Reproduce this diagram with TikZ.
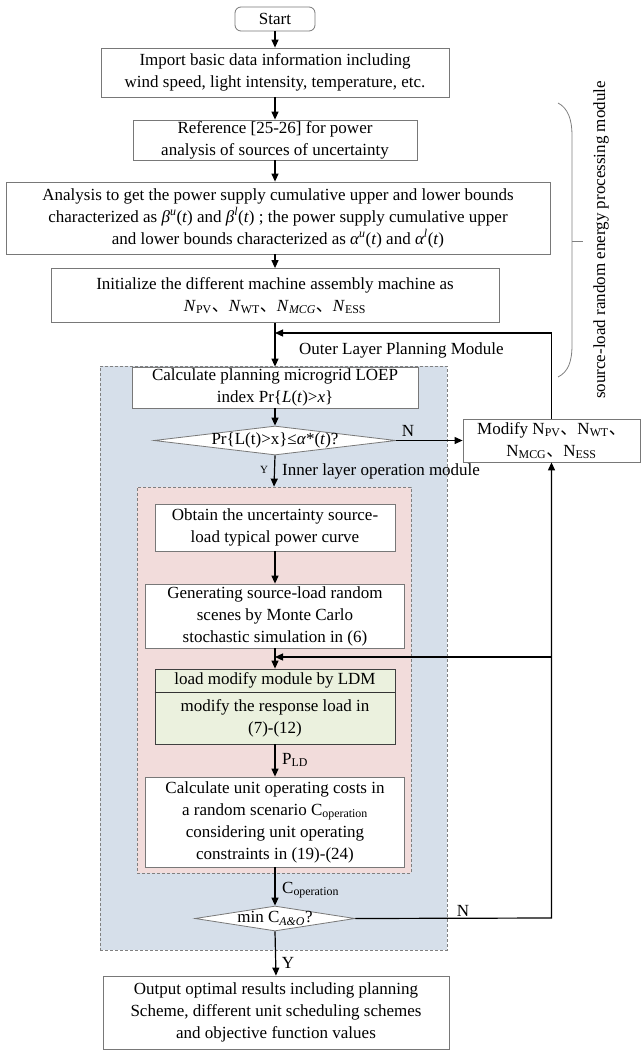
\documentclass[tikz,border=0pt]{standalone}
\usepackage{fontspec}
\setmainfont{Liberation Serif}
\newfontfamily\cjkfont{Noto Sans CJK SC}
\usetikzlibrary{arrows.meta,shapes.geometric}
\newcommand{\idc}{{\cjkfont 、}}
\newcommand{\sbs}[1]{\textsubscript{#1}}
\definecolor{blueregion}{RGB}{214,223,234}
\definecolor{pinkregion}{RGB}{242,220,219}
\definecolor{greenbox}{RGB}{235,241,222}
\definecolor{boxline}{RGB}{120,120,120}
\begin{document}
\begin{tikzpicture}[x=1pt,y=-1pt,
  txt/.style={font=\fontsize{17}{22}\selectfont},
  box/.style={draw=boxline, line width=0.8pt, fill=white, align=center, txt, inner sep=1pt},
  region/.style={draw=gray, dash pattern=on 3pt off 2pt, line width=0.8pt},
  arr/.style={line width=1.2pt, -{Triangle[length=8pt,width=7pt]}},
  ln/.style={line width=1.2pt},
  dia/.style={draw=boxline, line width=0.8pt, fill=white, diamond, inner sep=0pt},
  lbl/.style={txt, inner sep=1pt},
  small/.style={font=\fontsize{11}{12}\selectfont, inner sep=1pt}]

\useasboundingbox (0,0) rectangle (641,1050);
\fill[white] (0,0) rectangle (641,1050);

% regions
\node[region, fill=blueregion, minimum width=347pt, minimum height=584pt] (outer) at (273.5,658) {};
\node[region, fill=pinkregion, minimum width=274pt, minimum height=386pt] (inner) at (274,680) {};

% boxes
\node[box, rounded corners=6pt, minimum width=80pt, minimum height=24pt] (start) at (275,19) {Start};
\node[box, minimum width=348pt, minimum height=49pt] (import) at (275,72.5)
  {Import basic data information including\\wind speed, light intensity, temperature, etc.};
\node[box, minimum width=284pt, minimum height=40pt] (ref) at (275,140)
  {Reference [25-26] for power\\analysis of sources of uncertainty};
\node[box, minimum width=544pt, minimum height=72pt] (analysis) at (278,218)
  {Analysis to get the power supply cumulative upper and lower bounds\\
   characterized as \textit{β\textsuperscript{u}}(\textit{t}) and \textit{β\textsuperscript{l}}(\textit{t}) ; the power supply cumulative upper\\
   and lower bounds characterized as \textit{α\textsuperscript{u}}(\textit{t}) and \textit{α\textsuperscript{l}}(\textit{t})};
\node[box, minimum width=448pt, minimum height=54pt] (init) at (275,295.5)
  {Initialize the different machine assembly machine as\\
   \textit{N}\sbs{PV}\idc\textit{N}\sbs{WT}\idc\textit{N}\sbs{\textit{MCG}}\idc\textit{N}\sbs{ESS}};
\node[box, minimum width=286pt, minimum height=41pt] (calc) at (275,387.5)
  {Calculate planning microgrid LOEP\\index Pr\{\textit{L}(\textit{t})>\textit{x}\}};
\node[dia, minimum width=242pt, minimum height=29pt] (d1) at (275,440.5) {};
\node[lbl] (d1t) at (d1.center) {Pr\{L(t)>x\}≤\textit{α}*(\textit{t})?};
\node[box, minimum width=177pt, minimum height=43pt] (modify) at (551.5,440.5)
  {Modify N\sbs{PV}\idc N\sbs{WT}\idc\\N\sbs{MCG}\idc N\sbs{ESS}};
\node[box, minimum width=240pt, minimum height=47pt] (obtain) at (275,527.5)
  {Obtain the uncertainty source-\\load typical power curve};
\node[box, minimum width=259pt, minimum height=64pt] (gen) at (275,616)
  {Generating source-load random\\scenes by Monte Carlo\\stochastic simulation in (6)};
\node[box, fill=greenbox, draw=black!75, minimum width=240pt, minimum height=75pt] (ldm) at (275,706.5) {};
\draw[black!80, line width=0.8pt] (ldm.west |- 0,692) -- (ldm.east |- 0,692);
\node[lbl] (ldmhead) at (275,680.5) {load modify module by LDM};
\node[lbl, align=center] (ldmbody) at (275,718) {modify the response load in\\(7)-(12)};
\node[box, minimum width=259pt, minimum height=90pt] (opcost) at (275,822)
  {Calculate unit operating costs in\\a random scenario C\sbs{operation}\\considering unit operating\\constraints in (19)-(24)};
\node[dia, minimum width=160pt, minimum height=25pt] (d2) at (275,918.5) {};
\node[lbl] (d2t) at (d2.center) {min C\sbs{\textit{A\&O}}?};
\node[box, minimum width=346pt, minimum height=73pt] (output) at (276,1012.5)
  {Output optimal results including planning\\Scheme, different unit scheduling schemes\\and objective function values};

% labels
\node[lbl, anchor=west] (outerlbl) at (298,350) {Outer Layer Planning Module};
\node[lbl, anchor=west] (innerlbl) at (281,471) {Inner layer operation module};
\node[small] (y1) at (264,470) {Y};
\node[lbl] (n1) at (408,431) {N};
\node[lbl, anchor=west] (pld) at (281,760) {P\sbs{LD}};
\node[lbl, anchor=west] (cop) at (281,890) {C\sbs{operation}};
\node[lbl] (n2) at (463,911) {N};
\node[lbl] (y2) at (288,963) {Y};
\node[lbl, rotate=90] (side) at (601,240) {source-load random energy processing module};

% brace
\draw[gray, line width=0.8pt] (558,103) .. controls (568,108) and (572,120) .. (572,135) -- (572,345)
  .. controls (572,362) and (568,372) .. (558,377);
\draw[gray, line width=0.8pt] (572,241) -- (583,241);

% connectors
\draw[arr] (start.south) -- (import.north);
\draw[arr] (import.south) -- (ref.north);
\draw[arr] (ref.south) -- (ref.south |- analysis.north);
\draw[arr] (init.south |- analysis.south) -- (init.north);
\draw[arr] (init.south) -- (calc.north);
\draw[arr] (calc.south) -- (d1.north);
\draw[arr] (d1.east) -- (modify.west);
\draw[arr] (d1.south) -- (inner.north);
\draw[arr] (obtain.south) -- (gen.north);
\draw[arr] (gen.south) -- (ldm.north);
\draw[arr] (ldm.south) -- (opcost.north);
\draw[arr] (opcost.south) -- (d2.north);
\draw[arr] (d2.south) -- (output.north);
\coordinate (fo) at (551.5,333);
\draw[arr] (modify.north) -- (fo) -- (fo -| init.south);
\coordinate (jr) at (551.5,918);
\draw[arr] (d2.east) -- (jr) -- (modify.south);
\coordinate (fb) at (551.5,657);
\draw[arr] (fb) -- (fb -| gen.south);
\end{tikzpicture}
\end{document}
